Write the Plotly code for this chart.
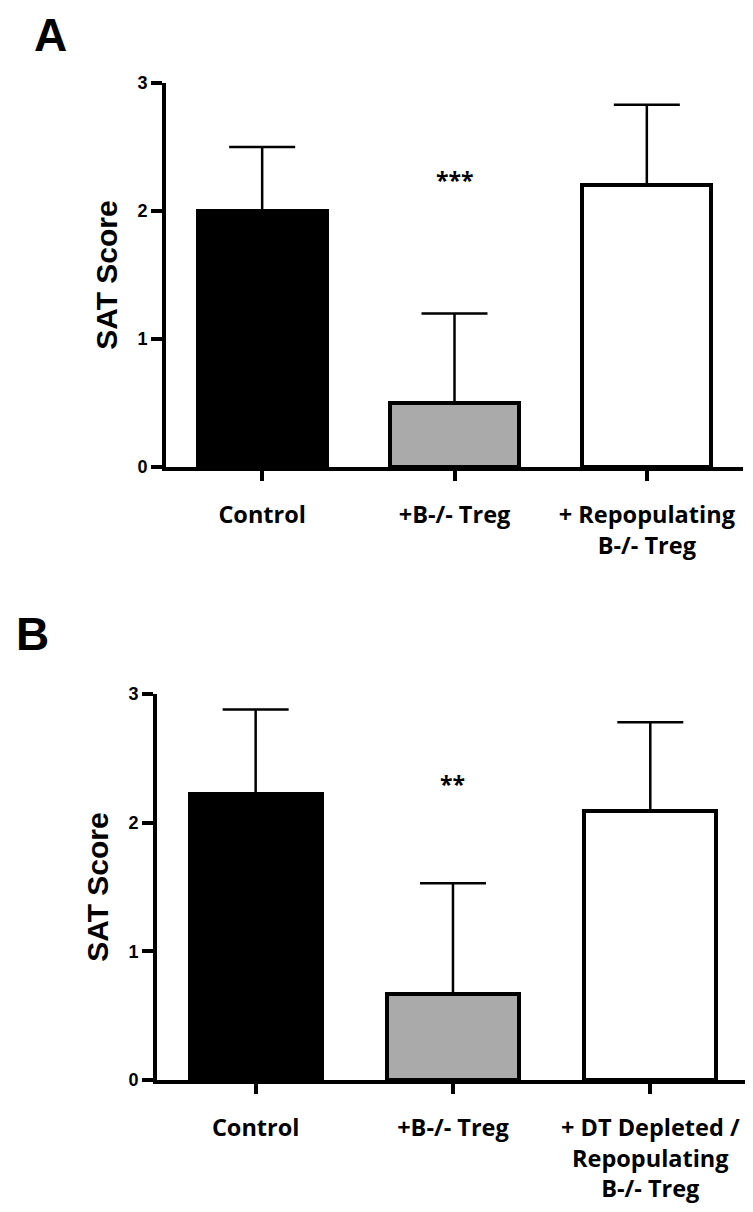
import plotly.graph_objects as go

# ---- data ----
categories_a = ["Control", "+B-/- Treg", "+ Repopulating<br>B-/- Treg"]
values_a = [2.0, 0.5, 2.2]
errors_a = [0.5, 0.7, 0.63]
stars_a = "***"
stars_a_y = 2.24

categories_b = ["Control", "+B-/- Treg", "+ DT Depleted /<br>Repopulating<br>B-/- Treg"]
values_b = [2.22, 0.67, 2.09]
errors_b = [0.66, 0.86, 0.69]
stars_b = "**"
stars_b_y = 2.30

y_ticks = [0, 1, 2, 3]
bar_colors = ["#000000", "#aaaaaa", "#ffffff"]

# page has an 8px body margin; figure sized to fit the 753x1212 window
OFF = 8
W, H = 753 - 2 * OFF, 1212 - 2 * OFF

def px_x(p):
    return min(1.0, (p - OFF) / W)

def px_y(p):
    return (H - (p - OFF)) / H

fig = go.Figure()

for vals, errs, cats, xa, ya in [
    (values_a, errors_a, categories_a, "x", "y"),
    (values_b, errors_b, categories_b, "x2", "y2"),
]:
    fig.add_trace(go.Bar(
        x=list(range(len(cats))), y=vals,
        width=0.67,
        marker=dict(color=bar_colors, line=dict(color="black", width=4)),
        error_y=dict(type="data", array=errs, arrayminus=[0] * len(errs),
                     symmetric=False, color="black", thickness=2.5, width=33),
        xaxis=xa, yaxis=ya, showlegend=False, hoverinfo="skip",
    ))

tick_font = dict(family="Open Sans", size=23.5, color="black", weight="bold")
num_font = dict(family="Liberation Sans, Arial", size=18, color="black", weight="bold")

common_x = dict(tickmode="array", tickvals=[0, 1, 2],
                showline=True, linecolor="black", linewidth=4,
                ticks="outside", ticklen=10, tickwidth=4, tickcolor="black",
                showgrid=False, zeroline=False, tickfont=tick_font,
                ticklabelstandoff=14, automargin=False, fixedrange=True)
common_y = dict(range=[0, 3], tickmode="array", tickvals=y_ticks,
                ticktext=[str(t) for t in y_ticks],
                showline=True, linecolor="black", linewidth=4,
                ticks="outside", ticklen=11, tickwidth=4, tickcolor="black",
                showgrid=False, zeroline=False, tickfont=num_font,
                automargin=False, fixedrange=True,
                title=dict(text="SAT Score", standoff=12,
                           font=dict(family="Liberation Sans, Arial", size=30,
                                     color="black", weight="bold")))

fig.update_layout(
    width=W, height=H,
    margin=dict(l=0, r=0, t=0, b=0, autoexpand=False),
    paper_bgcolor="white", plot_bgcolor="white",
    xaxis=dict(domain=[px_x(166), px_x(743)], anchor="y", range=[-0.5, 2.5],
               ticktext=categories_a, **common_x),
    yaxis=dict(domain=[px_y(467), px_y(83)], anchor="x", **common_y),
    xaxis2=dict(domain=[px_x(157), px_x(745)], anchor="y2", range=[-0.5, 2.48],
                ticktext=categories_b, **common_x),
    yaxis2=dict(domain=[px_y(1080), px_y(694)], anchor="x2", **common_y),
    bargap=0,
    annotations=[
        dict(text=stars_a, x=1, y=stars_a_y, xref="x", yref="y", showarrow=False,
             font=dict(family="Open Sans", size=23, color="black", weight="bold"),
             yanchor="middle"),
        dict(text=stars_b, x=1, y=stars_b_y, xref="x2", yref="y2", showarrow=False,
             font=dict(family="Open Sans", size=23, color="black", weight="bold"),
             yanchor="middle"),
        dict(text="A", x=px_x(32), y=px_y(35), xref="paper", yref="paper",
             xanchor="left", yanchor="middle", showarrow=False,
             font=dict(family="Liberation Sans, Arial", size=46, color="black", weight="bold")),
        dict(text="B", x=px_x(14), y=px_y(634), xref="paper", yref="paper",
             xanchor="left", yanchor="middle", showarrow=False,
             font=dict(family="Liberation Sans, Arial", size=46, color="black", weight="bold")),
    ],
)

fig.write_html("out.html")
